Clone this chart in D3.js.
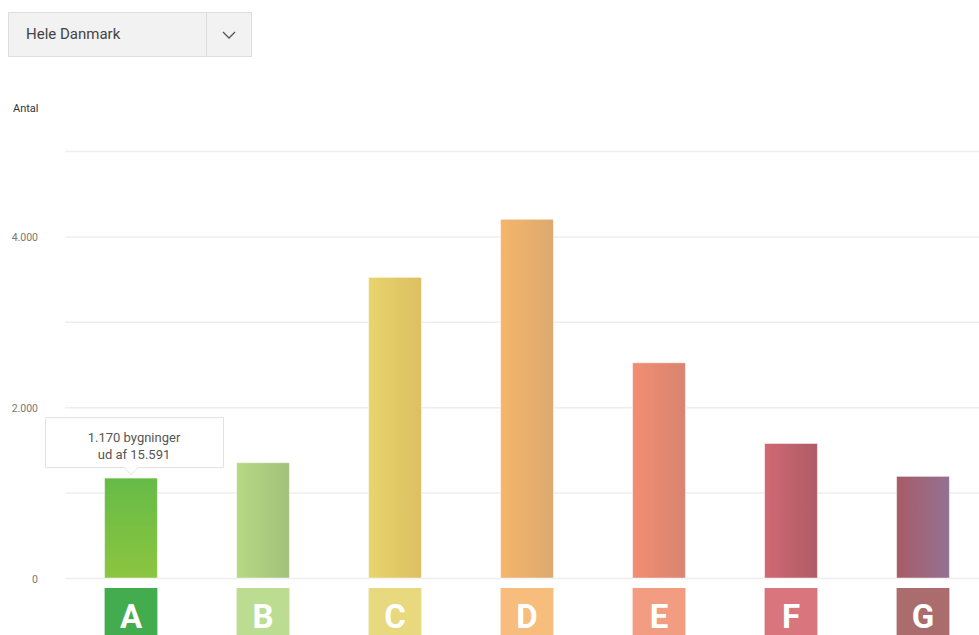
<!DOCTYPE html>
<html>
<head>
<meta charset="utf-8">
<script src="https://cdn.jsdelivr.net/npm/d3@7"></script>
<style>
  body { margin: 0; background: #fff; font-family: Roboto, "Open Sans", sans-serif; }
  svg { display: block; }
</style>
</head>
<body>
<script>
// data
var labels = ["A", "B", "C", "D", "E", "F", "G"];
var counts = [1170, 1350, 3520, 4200, 2520, 1575, 1190];
var total = 15591;
var yTicks = [0, 2000, 4000];
var region = "Hele Danmark";

// colours: [left/top, right/bottom] of bar gradient, and label box colour
var barFrom = ["#66bb47", "#b6d984", "#e8d46c", "#f5b56b", "#f28d73", "#d06873", "#a85b66"];
var barTo   = ["#8cc540", "#a2c17a", "#dcbf62", "#dca96e", "#d98470", "#ae5c66", "#937292"];
var boxCol  = ["#43ac4f", "#bcdc91", "#e8d87e", "#f7bd7c", "#f29c81", "#d8757d", "#aa6c6d"];

var W = 979, H = 635;
var svg = d3.select("body").append("svg").attr("width", W).attr("height", H);

var x = d3.scaleBand().domain(labels).range([65, 989]).paddingInner(0.6).paddingOuter(0.3);
var y = d3.scaleLinear().domain([0, 5000]).range([578, 151]);

// gradients
var defs = svg.append("defs");
labels.forEach(function(l, i) {
	var g = defs.append("linearGradient").attr("id", "grad" + l)
		.attr("x1", 0).attr("y1", 0)
		.attr("x2", i == 0 ? 0 : 1).attr("y2", i == 0 ? 1 : 0);
	g.append("stop").attr("offset", "0%").attr("stop-color", barFrom[i]);
	g.append("stop").attr("offset", "100%").attr("stop-color", barTo[i]);
});

// dropdown
var dd = svg.append("g");
dd.append("rect").attr("x", 8.5).attr("y", 12.5).attr("width", 243).attr("height", 44)
	.attr("fill", "#f2f2f2").attr("stroke", "#dedede");
dd.append("line").attr("x1", 206.5).attr("x2", 206.5).attr("y1", 13).attr("y2", 56).attr("stroke", "#dedede");
dd.append("text").attr("x", 26).attr("y", 39).attr("font-size", 15).attr("fill", "#444").text(region);
dd.append("path").attr("d", "M223,32 L229,38 L235,32").attr("fill", "none").attr("stroke", "#555").attr("stroke-width", 1.3);

// axis title
svg.append("text").attr("x", 13).attr("y", 112).attr("font-size", 11).attr("fill", "#333").text("Antal");

// gridlines
var grid = svg.append("g")
	.attr("transform", "translate(65,0)")
	.call(d3.axisLeft(y).tickValues(d3.range(0, 5001, 1000)).tickSize(-(W - 65)).tickFormat(""));
grid.select(".domain").remove();
grid.selectAll(".tick line").attr("stroke", "#eeeeee").attr("stroke-width", 1.5);

// tick labels
svg.selectAll(".ylab").data(yTicks).enter().append("text")
	.attr("class", "ylab")
	.attr("x", 38).attr("y", function(d) { return y(d) + 5; })
	.attr("text-anchor", "end").attr("font-size", 10.5).attr("fill", "#777")
	.text(function(d) { return d3.format(",")(d).replace(/,/g, "."); });

// bars
svg.selectAll(".bar").data(counts).enter().append("rect")
	.attr("class", "bar")
	.attr("x", function(d, i) { return x(labels[i]); })
	.attr("y", function(d) { return y(d); })
	.attr("width", x.bandwidth())
	.attr("height", function(d) { return y(0) - y(d); })
	.attr("fill", function(d, i) { return "url(#grad" + labels[i] + ")"; })
	.attr("stroke", "#fff").attr("stroke-opacity", 0.45).attr("stroke-width", 1);

// label boxes
var boxes = svg.selectAll(".lbl").data(labels).enter().append("g").attr("class", "lbl");
boxes.append("rect")
	.attr("x", function(d) { return x(d); })
	.attr("y", 588)
	.attr("width", x.bandwidth()).attr("height", x.bandwidth())
	.attr("fill", function(d, i) { return boxCol[i]; });
boxes.append("text")
	.attr("x", function(d) { return x(d) + x.bandwidth() / 2; })
	.attr("y", 628)
	.attr("text-anchor", "middle").attr("font-size", 33).attr("font-weight", "bold")
	.attr("fill", "#fff").text(function(d) { return d; });

// tooltip on A
var tx = x("A") + x.bandwidth() / 2;
var ty = y(counts[0]) + 2;
var tip = svg.append("g");
tip.append("path")
	.attr("d", "M45.5," + (ty - 62.5) + " H223.5 V" + (ty - 12.5) + " H" + (tx + 7) + " L" + tx + "," + (ty - 5.5) + " L" + (tx - 7) + "," + (ty - 12.5) + " H45.5 Z")
	.attr("fill", "#fff").attr("stroke", "#e2e2e2");
tip.append("text").attr("x", 134).attr("y", ty - 38).attr("text-anchor", "middle")
	.attr("font-size", 13).attr("fill", "#555")
	.text(d3.format(",")(counts[0]).replace(/,/g, ".") + " bygninger");
tip.append("text").attr("x", 134).attr("y", ty - 21).attr("text-anchor", "middle")
	.attr("font-size", 13).attr("fill", "#555")
	.text("ud af " + d3.format(",")(total).replace(/,/g, "."));
</script>
</body>
</html>
